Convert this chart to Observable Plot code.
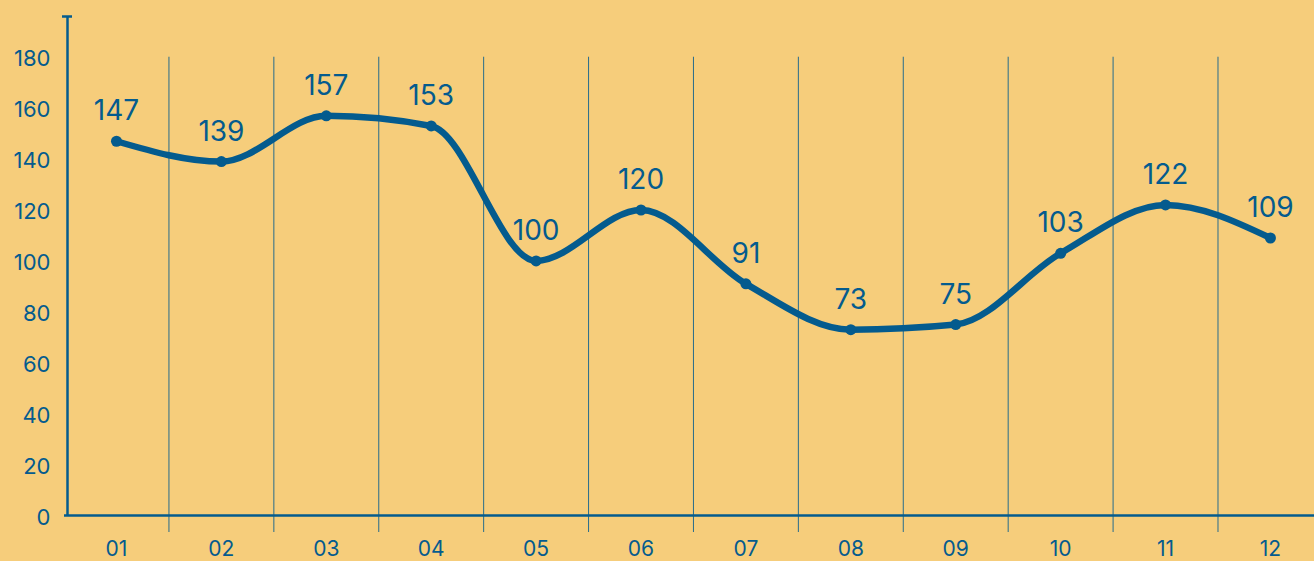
<!DOCTYPE html>
<html><head><meta charset="utf-8">
<script src="https://cdn.jsdelivr.net/npm/d3@7"></script>
<script src="https://cdn.jsdelivr.net/npm/@observablehq/plot@0.6"></script>
<style>
html,body{margin:0;padding:0;background:#F6CD7B;}
#chart svg{display:block;}
</style></head>
<body><div id="chart"></div>
<script>
const months = [1,2,3,4,5,6,7,8,9,10,11,12];
const values = [147,139,157,153,100,120,91,73,75,103,122,109];
const yTicks = [0,20,40,60,80,100,120,140,160,180];
const gridAt = [1.5,2.5,3.5,4.5,5.5,6.5,7.5,8.5,9.5,10.5,11.5];

const data = months.map((m,i)=>({m, v: values[i]}));
const blue = "#045B8E";
const xDom = [0.533, 12.42];
const yDom = [0, 196];

const chart = Plot.plot({
  width: 1314, height: 561,
  marginTop: 16, marginBottom: 46, marginLeft: 67, marginRight: 0,
  style: {background: "#F6CD7B", fontFamily: "Inter, Roboto, sans-serif", fontSize: "20px", color: blue},
  x: {domain: xDom, axis: null},
  y: {domain: yDom, axis: null},
  marks: [
    Plot.ruleX(gridAt, {y1: 180, y2: 0, insetBottom: -17, stroke: blue, strokeWidth: 1, strokeOpacity: 0.85}),
    Plot.ruleY([0], {stroke: blue, strokeWidth: 2.5, insetLeft: -3}),
    Plot.ruleX([xDom[0]], {stroke: blue, strokeWidth: 2.5}),
    Plot.ruleY([yDom[1]], {x1: xDom[0], x2: xDom[0], insetLeft: -5, insetRight: -5, stroke: blue, strokeWidth: 2.5}),
    Plot.text(yTicks, {x: xDom[0], y: d => d, text: d => String(d), dx: -17, dy: 2, textAnchor: "end", fontSize: 22, fill: blue}),
    Plot.text(months, {x: d => d, y: 0, text: d => d3.format("02d")(d), dy: 34, fontSize: 21, fill: blue}),
    Plot.line(data, {x: "m", y: "v", curve: "monotone-x", stroke: blue, strokeWidth: 6.5, strokeLinecap: "round", strokeLinejoin: "round"}),
    Plot.dot(data, {x: "m", y: "v", r: 5.5, fill: blue, stroke: "none"}),
    Plot.text(data, {x: "m", y: "v", text: d => String(d.v), dy: -30, fontSize: 28, fill: blue})
  ]
});
document.getElementById("chart").appendChild(chart);
</script>
</body></html>
